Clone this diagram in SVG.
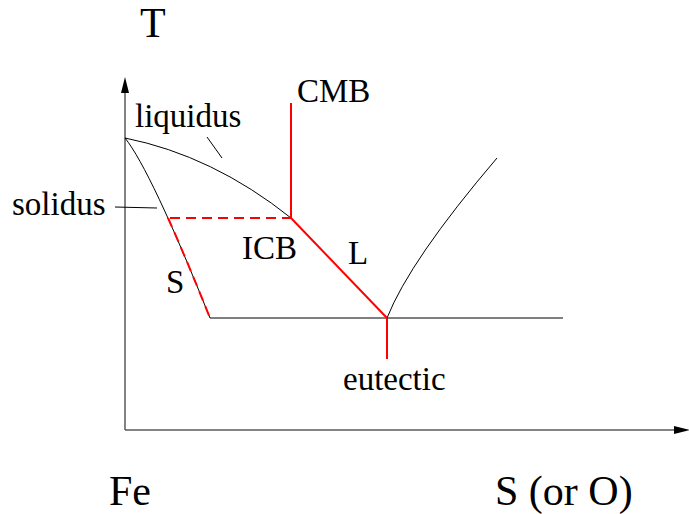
<svg xmlns="http://www.w3.org/2000/svg" width="689" height="514" viewBox="0 0 689 514">
<style>
.axis{stroke:#5a5a5a;stroke-width:1.5;fill:none}
.blk{stroke:#000;stroke-width:1;fill:none}
.red{stroke:#ff0000;stroke-width:2;fill:none}
.dash{stroke:#ff0000;stroke-width:2;fill:none;stroke-dasharray:10 6}
text{fill:#000;font-family:"Liberation Serif","Times New Roman",serif}
.big{font-size:42px}
.lbl{font-size:33px}
</style>
<rect width="689" height="514" fill="#fff"/>
<g id="axes">
<line class="axis" x1="125" y1="430" x2="125" y2="92"/>
<polygon points="125,77 121,93 129,93" fill="#000"/>
<line class="axis" x1="125" y1="430" x2="674" y2="430"/>
<polygon points="690,430 674,426 674,434" fill="#000"/>
</g>
<g id="connectors">
<path id="liquidus-curve" class="blk" d="M125,138 Q213,155.6 291,218"/>
<path id="solidus-curve" class="blk" d="M125,138 Q151,170.5 210,318"/>
<line id="eutectic-line" class="blk" x1="210" y1="318" x2="563" y2="318"/>
<path id="right-liquidus" class="blk" d="M387,318 Q410,260 497,158"/>
<line id="liquidus-leader" class="blk" x1="207" y1="137" x2="222" y2="158"/>
<line id="solidus-leader" class="blk" x1="115" y1="207" x2="157" y2="208"/>
<line id="cmb-line" class="red" x1="291" y1="103" x2="291" y2="218"/>
<line id="icb-line" class="dash" x1="170" y1="218" x2="291" y2="218"/>
<path id="s-line" class="dash" d="M168,218 Q186.3,258.7 210,318"/>
<line id="l-line" class="red" x1="291" y1="218" x2="387" y2="318"/>
<line id="eutectic-tick" class="red" x1="387" y1="318" x2="387" y2="359"/>
</g>
<g id="labels">
<text id="t-label" class="big" x="140" y="37">T</text>
<text id="fe-label" class="big" x="109" y="505">Fe</text>
<text id="s-or-o-label" class="big" x="495" y="505">S (or O)</text>
<text id="cmb-label" class="lbl" x="297" y="102">CMB</text>
<text id="liquidus-label" class="lbl" x="135" y="127">liquidus</text>
<text id="solidus-label" class="lbl" x="12" y="215">solidus</text>
<text id="icb-label" class="lbl" x="242" y="259">ICB</text>
<text id="l-label" class="lbl" x="348" y="264">L</text>
<text id="s-label" class="lbl" x="166" y="293">S</text>
<text id="eutectic-label" class="lbl" x="343" y="390">eutectic</text>
</g>
</svg>
